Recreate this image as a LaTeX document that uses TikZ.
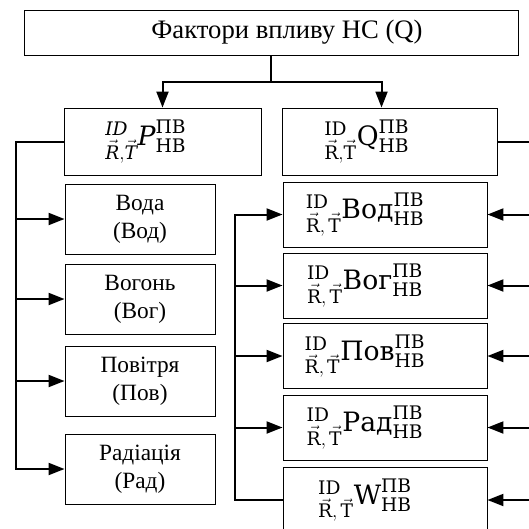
\documentclass[tikz,border=0pt]{standalone}
\usepackage{amsmath}
\usepackage{fontspec}
\setmainfont{Liberation Serif}
\newfontfamily\formfont{DejaVu Serif}
\usetikzlibrary{arrows.meta}

\newcommand{\rtform}[2]{${}^{\text{ID}}_{\vec{\text{R}},#2\vec{\text{T}}}\text{#1}^{\text{ПВ}}_{\text{НВ}}$}

\begin{document}
\begin{tikzpicture}[x=0.75pt, y=-0.75pt,
  box/.style={draw, line width=0.7pt, inner sep=0pt},
  txtbox/.style={box, minimum width=112.5pt, minimum height=52.5pt, align=center,
    font=\fontsize{17.5}{21}\selectfont},
  frmbox/.style={box, minimum width=153pt, minimum height=48.75pt,
    font=\formfont\fontsize{20}{22}\selectfont},
  link/.style={line width=1.5pt},
  >={Triangle[length=12pt, width=9pt]}]
  \useasboundingbox (0,0) rectangle (529,529);

  \node[box, minimum width=370.5pt, minimum height=33.75pt,
    font=\fontsize{20}{22}\selectfont] (hc) at (271,32.5) {\kern24pt Фактори впливу НС (Q)};
  \node[box, minimum width=147.75pt, minimum height=50.25pt,
    font=\formfont\fontsize{20}{22}\selectfont] (p) at (162.5,141.5)
    {${}^{\textit{ID}}_{\vec{\textit{R}},\vec{\textit{T}}}\textit{P}^{\text{ПВ}}_{\text{НВ}}$\kern25pt};
  \node[box, minimum width=161.25pt, minimum height=50.25pt,
    font=\formfont\fontsize{20}{22}\selectfont] (q) at (389.5,141.5)
    {\rtform{Q}{}\kern34pt};

  \node[txtbox] (vod) at (140,219) {Вода\\(Вод)};
  \node[txtbox] (vog) at (140,299) {Вогонь\\(Вог)};
  \node[txtbox] (pov) at (140,381) {Повітря\\(Пов)};
  \node[txtbox] (rad) at (140,469) {Радіація\\(Рад)};

  \node[frmbox] (qvod) at (385,214.5) {\rtform{Вод}{\,}\kern30pt};
  \node[frmbox] (qvog) at (385,285.5) {\rtform{Вог}{\,}\kern30pt};
  \node[frmbox] (qpov) at (385,356) {\rtform{Пов}{\,}\kern30pt};
  \node[frmbox] (qrad) at (385,427.5) {\rtform{Рад}{\,}\kern30pt};
  \node[frmbox] (qw) at (385,500) {\rtform{W}{\,}\kern30pt};

  \coordinate (j) at (271,82);
  \coordinate (ll) at (16,0);
  \coordinate (rl) at (235,0);
  \coordinate (rim) at (529,0);

  \draw[link] (hc) -- (j);
  \draw[link,->] (j) -| (p);
  \draw[link,->] (j) -| ([xshift=75pt]q.north west);

  \draw[link,->] (p.west) -| (ll |- rad) -- (rad);
  \path[link,->]
  (ll |- vod) edge (vod)
  (ll |- vog) edge (vog)
  (ll |- pov) edge (pov);

  \draw[link,->] (qw.west) -| (rl |- qvod) -- (qvod);
  \path[link,->]
  (rl |- qvog) edge (qvog)
  (rl |- qpov) edge (qpov)
  (rl |- qrad) edge (qrad);

  \draw[link] (q.east) -- (rim |- q.east);
  \path[link,->]
  (rim |- qvod) edge (qvod)
  (rim |- qvog) edge (qvog)
  (rim |- qpov) edge (qpov)
  (rim |- qrad) edge (qrad)
  (rim |- qw) edge (qw);
\end{tikzpicture}
\end{document}
